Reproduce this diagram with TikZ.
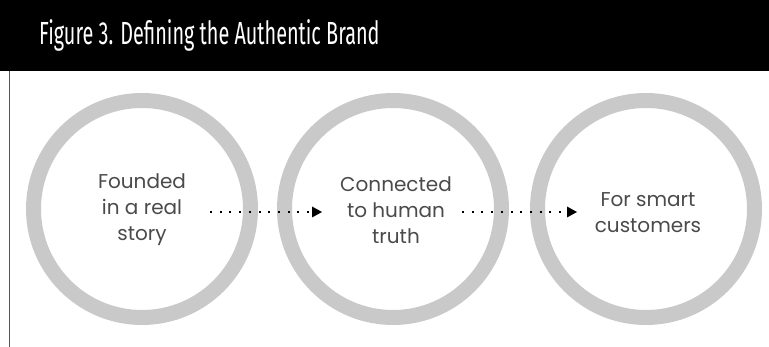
\documentclass[tikz,border=0pt]{standalone}
\usepackage{fontspec}
\usetikzlibrary{arrows.meta}
\newfontfamily\titlefont[FakeStretch=0.62]{Fira Sans}
\newfontfamily\bodyfont{Poppins}
\definecolor{ringgray}{HTML}{C9C9C9}
\definecolor{textgray}{HTML}{4A4A4A}
\definecolor{rulegray}{HTML}{555555}
\begin{document}
\begin{tikzpicture}[x=1pt,y=-1pt,
  ring/.style={circle, draw=ringgray, line width=15pt, minimum size=217pt, inner sep=0pt},
  label/.style={align=center, text=textgray, font=\bodyfont\fontsize{20}{26}\selectfont},
  flow/.style={line width=2pt, dash pattern=on 2pt off 7.7pt, line cap=butt,
    -{Triangle[length=10pt,width=11pt,line width=0pt]}, black}
]
  \useasboundingbox (0,0) rectangle (769,347);
  % header bar and left rule
  \fill[black] (0,0) rectangle (769,71);
  \node[anchor=base west, inner sep=0pt, text=white, font=\titlefont\fontsize{32}{32}\selectfont]
    (title) at (39,45) {Figure 3. Defining the Authentic Brand};
  \coordinate (ruletop) at (9.5,71);
  \coordinate (rulebot) at (9.5,347);
  \draw[rulegray, line width=1.3pt] (ruletop) -- (rulebot);
  % the three rings
  \node[ring] (c1) at (142,209) {};
  \node[ring] (c2) at (393,209) {};
  \node[ring] (c3) at (646,209) {};
  % ring texts
  \node[label] (t1) at (142,210) {Founded\\in a real\\story};
  \node[label] (t2) at (396,210) {Connected\\to human\\truth};
  \node[label] (t3) at (648,213) {For smart\\customers};
  % dotted connectors
  \draw[flow] ([xshift=68pt,yshift=-3pt]c1.center) -- ([xshift=-71pt,yshift=-3pt]c2.center);
  \draw[flow] ([xshift=69pt,yshift=-3pt]c2.center) -- ([xshift=-69pt,yshift=-3pt]c3.center);
\end{tikzpicture}
\end{document}
